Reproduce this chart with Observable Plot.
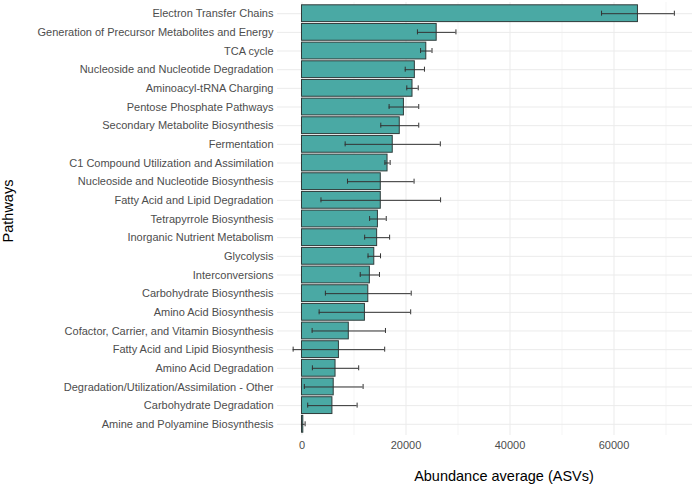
<!DOCTYPE html>
<html>
<head>
<meta charset="utf-8">
<script src="https://cdn.jsdelivr.net/npm/d3@7"></script>
<script src="https://cdn.jsdelivr.net/npm/@observablehq/plot@0.6"></script>
<style>
  html, body { margin: 0; padding: 0; background: #ffffff; }
  #chart svg { display: block; }
</style>
</head>
<body>
<div id="chart"></div>
<script>
const pathways = [
  "Electron Transfer Chains",
  "Generation of Precursor Metabolites and Energy",
  "TCA cycle",
  "Nucleoside and Nucleotide Degradation",
  "Aminoacyl-tRNA Charging",
  "Pentose Phosphate Pathways",
  "Secondary Metabolite Biosynthesis",
  "Fermentation",
  "C1 Compound Utilization and Assimilation",
  "Nucleoside and Nucleotide Biosynthesis",
  "Fatty Acid and Lipid Degradation",
  "Tetrapyrrole Biosynthesis",
  "Inorganic Nutrient Metabolism",
  "Glycolysis",
  "Interconversions",
  "Carbohydrate Biosynthesis",
  "Amino Acid Biosynthesis",
  "Cofactor, Carrier, and Vitamin Biosynthesis",
  "Fatty Acid and Lipid Biosynthesis",
  "Amino Acid Degradation",
  "Degradation/Utilization/Assimilation - Other",
  "Carbohydrate Degradation",
  "Amine and Polyamine Biosynthesis"
];
const means = [64600, 25900, 23900, 21700, 21250, 19600, 18800, 17450, 16450, 15150, 15150, 14600, 14450, 13900, 13050, 12750, 12100, 9000, 7100, 6450, 6100, 5850, 250];
const errors = [7000, 3700, 1100, 1850, 1100, 2850, 3650, 9150, 500, 6400, 11500, 1600, 2400, 1200, 1850, 8250, 8800, 7050, 8800, 4450, 5650, 4750, 350];
const majorTicks = [0, 20000, 40000, 60000];
const minorTicks = [10000, 30000, 50000, 70000];
const xTitle = "Abundance average (ASVs)";
const yTitle = "Pathways";

const data = pathways.map((p, i) => ({pathway: p, mean: means[i], lo: means[i] - errors[i], hi: means[i] + errors[i]}));

const W = 694, H = 486;
const mTop = 2, mBottom = 51, mLeft = 277, mRight = 2;
const step = (H - mTop - mBottom) / (pathways.length - 0.1 + 0.3);
const bw = step * 0.9;
const capInset = bw / 2 - 2.5;
const font = "'Liberation Sans', Arial, Helvetica, sans-serif";

const chart = Plot.plot({
  width: W,
  height: H,
  marginTop: mTop,
  marginBottom: mBottom,
  marginLeft: mLeft,
  marginRight: mRight,
  style: {fontFamily: font, fontSize: "11px", background: "#ffffff"},
  x: {domain: [-4710, 75090], ticks: majorTicks, tickFormat: d => String(d), tickSize: 0, tickPadding: 6, label: null},
  y: {domain: pathways, paddingInner: 0.1, paddingOuter: 0.15, round: false, tickSize: 0, tickPadding: 4, label: null},
  marks: [
    Plot.ruleX(minorTicks, {stroke: "#ebebeb", strokeWidth: 0.5}),
    Plot.ruleX(majorTicks, {stroke: "#ebebeb", strokeWidth: 1}),
    Plot.ruleY(pathways, {y: d => d, stroke: "#ebebeb", strokeWidth: 1}),
    Plot.barX(data, {x: "mean", y: "pathway", fill: "#4aa9a4", stroke: "#2f3b3a", strokeWidth: 1}),
    Plot.ruleY(data, {y: "pathway", x1: "lo", x2: "hi", stroke: "#333333", strokeWidth: 1}),
    Plot.tickX(data, {x: "lo", y: "pathway", stroke: "#333333", strokeWidth: 1, insetTop: capInset, insetBottom: capInset}),
    Plot.tickX(data, {x: "hi", y: "pathway", stroke: "#333333", strokeWidth: 1, insetTop: capInset, insetBottom: capInset}),
    Plot.axisX({ticks: majorTicks, tickFormat: d => String(d), tickSize: 0, tickPadding: 6, fill: "#4d4d4d", fontSize: 11, label: null}),
    Plot.axisY({tickSize: 0, tickPadding: 4, fill: "#4d4d4d", fontSize: 11, label: null}),
    Plot.text([xTitle], {frameAnchor: "bottom", text: d => d, textAnchor: "middle", lineAnchor: "middle", dy: 41, dx: 19, fontSize: 14.5, fill: "#000000", fontFamily: font}),
    Plot.text([yTitle], {frameAnchor: "left", text: d => d, textAnchor: "middle", lineAnchor: "middle", rotate: -90, dx: -269, dy: -8, fontSize: 14.5, fill: "#000000", fontFamily: font})
  ]
});
document.getElementById("chart").appendChild(chart);
</script>
</body>
</html>
